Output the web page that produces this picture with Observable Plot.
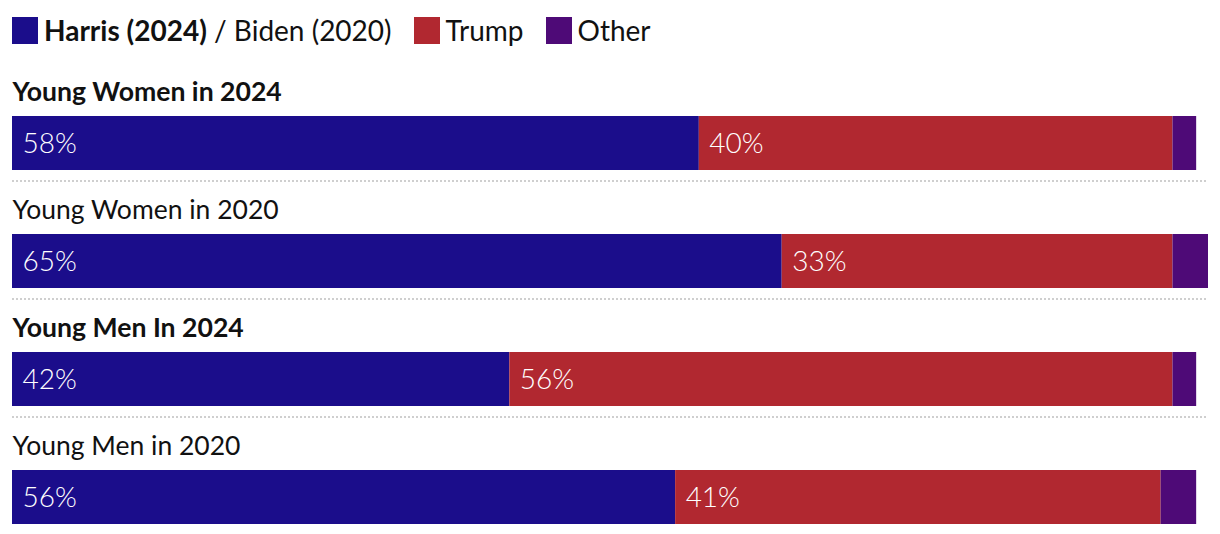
<!DOCTYPE html>
<html>
<head>
<meta charset="utf-8">
<script src="https://cdn.jsdelivr.net/npm/d3@7"></script>
<script src="https://cdn.jsdelivr.net/npm/@observablehq/plot@0.6"></script>
<style>
  html, body { margin: 0; padding: 0; background: #fff; }
  body { width: 1220px; height: 534px; overflow: hidden; font-family: Lato, "Noto Sans", sans-serif; }
  #legend { height: 60px; display: flex; align-items: center; padding-left: 12px; box-sizing: border-box; font-size: 28px; color: #111; font-weight: 400; }
  #legend .sw { width: 26px; height: 27px; display: inline-block; margin-right: 6px; }
  #legend .item { display: flex; align-items: center; margin-right: 22px; }
  #chart { margin-top: 2px; }
  #chart svg { display: block; }
</style>
</head>
<body>
<div id="legend"></div>
<div id="chart"></div>
<script>
const rows = ["Young Women in 2024", "Young Women in 2020", "Young Men In 2024", "Young Men in 2020"];
const boldRows = [true, false, true, false];
const harrisBiden = [58, 65, 42, 56];
const trump = [40, 33, 56, 41];
const other = [2, 3, 2, 3];
const parties = ["Harris/Biden", "Trump", "Other"];
const colors = ["#1b0d8b", "#b12830", "#4e0a77"];
const legendLabels = [["Harris (2024)", " / Biden (2020)"], ["", "Trump"], ["", "Other"]];

// legend
const legend = document.getElementById("legend");
parties.forEach((p, i) => {
  const item = document.createElement("span");
  item.className = "item";
  const sw = document.createElement("span");
  sw.className = "sw";
  sw.style.background = colors[i];
  item.appendChild(sw);
  const txt = document.createElement("span");
  if (legendLabels[i][0]) {
    const b = document.createElement("b");
    b.textContent = legendLabels[i][0];
    b.style.fontWeight = "700";
    txt.appendChild(b);
  }
  txt.appendChild(document.createTextNode(legendLabels[i][1]));
  item.appendChild(txt);
  legend.appendChild(item);
});

const data = [];
rows.forEach((r, i) => {
  data.push({row: r, party: parties[0], value: harrisBiden[i]});
  data.push({row: r, party: parties[1], value: trump[i]});
  data.push({row: r, party: parties[2], value: other[i]});
});
const rowData = rows.map((r, i) => ({row: r, bold: boldRows[i], idx: i}));

const chart = Plot.plot({
  width: 1220,
  height: 472,
  marginLeft: 12,
  marginRight: 12,
  marginTop: 0,
  marginBottom: 0,
  style: {fontFamily: "Lato, 'Noto Sans', sans-serif", background: "#fff"},
  x: {domain: [0, 101], axis: null},
  y: {domain: rows, axis: null, padding: 0},
  color: {domain: parties, range: colors},
  marks: [
    Plot.barX(data, {x: "value", y: "row", fill: "party", insetTop: 54, insetBottom: 10}),
    Plot.text(data, Plot.stackX1({
      x: "value", y: "row",
      text: d => d.party === "Other" ? "" : d.value + "%",
      textAnchor: "start", dx: 10, dy: 23,
      fill: "white", fontSize: 28, fontWeight: 300
    })),
    Plot.text(rowData.filter(d => d.bold), {
      y: "row", frameAnchor: "left", text: "row",
      textAnchor: "start", dy: -29, fontSize: 26.6,
      fontWeight: 700, fill: "#111"
    }),
    Plot.text(rowData.filter(d => !d.bold), {
      y: "row", frameAnchor: "left", text: "row",
      textAnchor: "start", dy: -29, fontSize: 26.5,
      fontWeight: 400, fill: "#111"
    }),
    Plot.ruleY(rowData.filter(d => d.idx < rows.length - 1), {
      y: "row", dy: 59.5, stroke: "#cfcfcf", strokeWidth: 2, strokeDasharray: "2,2"
    })
  ]
});
document.getElementById("chart").appendChild(chart);
</script>
</body>
</html>
